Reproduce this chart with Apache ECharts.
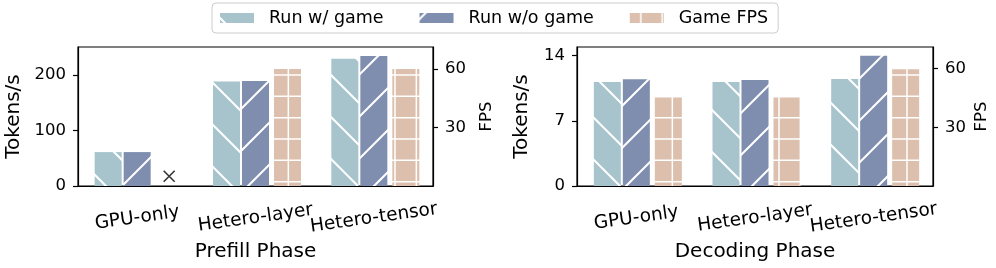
<!DOCTYPE html>
<html><head><meta charset="utf-8">
<script src="https://cdn.jsdelivr.net/npm/echarts@6/dist/echarts.min.js"></script>
<style>html,body{margin:0;padding:0;background:#fff}#c{width:996px;height:268px}</style>
</head><body><div id="c"></div>
<script>
// ---- data ----
const categories = ['GPU-only', 'Hetero-layer', 'Hetero-tensor'];
const seriesNames = ['Run w/ game', 'Run w/o game', 'Game FPS'];
const prefillWithGame = [61, 188, 229];
const prefillWithoutGame = [61, 189, 234];
const prefillFps = ['-', 60, 60];
const prefillFpsMissing = [5, '-', '-'];   // marked with an X (no FPS bar)
const decodeWithGame = [11.17, 11.17, 11.49];
const decodeWithoutGame = [11.46, 11.38, 14.0];
const decodeFps = [45.2, 45.2, 59.6];
const prefillTokenTicks = [0, 100, 200];
const decodeTokenTicks = [0, 7, 14];
const fpsTicks = [30, 60];
const axisTitles = { prefill: 'Prefill Phase', decode: 'Decoding Phase', tokens: 'Tokens/s', fps: 'FPS' };

// ---- styles ----
const C_LIGHT = '#a7c4cd', C_DARK = '#7f8eae', C_PINK = '#dcbfad';
const FONT = 'DejaVu Sans';

function hatch(kind, color, phase) {
  const s = 42;
  const cv = document.createElement('canvas'); cv.width = s; cv.height = s;
  const g = cv.getContext('2d');
  g.fillStyle = color; g.fillRect(0, 0, s, s);
  g.strokeStyle = '#ffffff'; g.lineWidth = 2;
  g.beginPath();
  for (let k = -3; k <= 3; k++) {
    const c0 = phase + k * s;
    if (kind === 'back') { g.moveTo(-s, -s + c0); g.lineTo(2 * s, 2 * s + c0); }
    else { g.moveTo(-s, s + c0); g.lineTo(2 * s, -2 * s + c0); }
  }
  g.stroke();
  return { image: cv, repeat: 'repeat' };
}
function gridHatch(color, phase) {
  const s = 64;
  const cv = document.createElement('canvas'); cv.width = s; cv.height = s;
  const g = cv.getContext('2d');
  g.fillStyle = color; g.fillRect(0, 0, s, s);
  g.strokeStyle = '#ffffff'; g.lineWidth = 1.5;
  g.beginPath();
  for (let i = -1; i <= 3; i++) {
    const p = phase + i * s / 3;
    g.moveTo(p, 0); g.lineTo(p, s);
    g.moveTo(0, p); g.lineTo(s, p);
  }
  g.stroke();
  return { image: cv, repeat: 'repeat' };
}

const pat = {
  l1: hatch('back', C_LIGHT, 38), d1: hatch('fwd', C_DARK, 14),
  l2: hatch('back', C_LIGHT, 28), d2: hatch('fwd', C_DARK, 14),
  lg1: hatch('back', C_LIGHT, 5), lg2: hatch('fwd', C_DARK, 6),
  p: gridHatch(C_PINK, 11)
};

const BW = 27;
const grids = [
  { left: 78, right: 563, top: 47, bottom: 82, show: true, borderColor: '#000', borderWidth: 1.2, backgroundColor: 'transparent' },
  { left: 577, right: 63, top: 47, bottom: 82, show: true, borderColor: '#000', borderWidth: 1.2, backgroundColor: 'transparent' }
];

function xMain(gi, title) {
  return {
    gridIndex: gi, type: 'category', data: categories,
    axisLine: { lineStyle: { color: '#000', width: 1.2 } },
    axisTick: { alignWithLabel: true, length: 5, lineStyle: { color: '#000', width: 1.2 } },
    axisLabel: { interval: 0, rotate: 8, fontSize: 18.5, color: '#000', fontFamily: FONT, margin: 32, align: 'center', verticalAlign: 'middle' },
    name: title, nameLocation: 'middle', nameGap: 53,
    nameTextStyle: { fontSize: 20, color: '#000', fontFamily: FONT }
  };
}
function xHidden(gi) {
  return { gridIndex: gi, type: 'category', data: categories, show: false };
}
function yTokens(gi, max, ticks, gap) {
  return {
    gridIndex: gi, type: 'value', min: 0, max: max, position: 'left',
    axisLine: { show: true, lineStyle: { color: '#000', width: 1.2 } },
    axisTick: { show: true, length: 5, customValues: ticks, lineStyle: { color: '#000', width: 1.2 } },
    axisLabel: { customValues: ticks, fontSize: 16.5, color: '#000', fontFamily: FONT, margin: 12 },
    splitLine: { show: false },
    name: axisTitles.tokens, nameLocation: 'middle', nameGap: gap,
    nameTextStyle: { fontSize: 20, color: '#000', fontFamily: FONT }
  };
}
function yFps(gi, max, gap) {
  return {
    gridIndex: gi, type: 'value', min: 0, max: max, position: 'right',
    axisLine: { show: true, lineStyle: { color: '#000', width: 1.2 } },
    axisTick: { show: true, length: 5, customValues: fpsTicks, lineStyle: { color: '#000', width: 1.2 } },
    axisLabel: { customValues: fpsTicks, fontSize: 16.5, color: '#000', fontFamily: FONT, margin: 12 },
    splitLine: { show: false },
    name: axisTitles.fps, nameLocation: 'middle', nameGap: gap,
    nameTextStyle: { fontSize: 16.5, color: '#000', fontFamily: FONT }
  };
}

function barSeries(name, xi, yi, data, color, gap) {
  return { type: 'bar', name: name, xAxisIndex: xi, yAxisIndex: yi, data: data, barWidth: BW, barGap: gap,
    itemStyle: { color: color }, emphasis: { disabled: true }, silent: true };
}
let dummyCount = 0;
function dummy(xi, yi, gap) {
  dummyCount++;
  return { type: 'bar', name: '_dummy' + dummyCount, xAxisIndex: xi, yAxisIndex: yi, data: ['-', '-', '-'], barWidth: BW, barGap: gap, silent: true };
}

const G1 = '7.4%', G2 = '18.5%';
const series = [
  // prefill
  barSeries(seriesNames[0], 0, 0, prefillWithGame, pat.l1, G1),
  barSeries(seriesNames[1], 0, 0, prefillWithoutGame, pat.d1, G1),
  dummy(0, 0, G1),
  dummy(1, 1, G2), dummy(1, 1, G2),
  barSeries(seriesNames[2], 1, 1, prefillFps, pat.p, G2),
  { type: 'scatter', name: 'missing', xAxisIndex: 0, yAxisIndex: 1, data: prefillFpsMissing,
    symbol: 'path://M0,0L10,10M10,0L0,10', symbolSize: 11, symbolOffset: [32, 0],
    itemStyle: { color: 'rgba(0,0,0,0)', borderColor: '#000', borderWidth: 1.6 }, silent: true },
  // decoding
  barSeries(seriesNames[0], 2, 2, decodeWithGame, pat.l2, G1),
  barSeries(seriesNames[1], 2, 2, decodeWithoutGame, pat.d2, G1),
  dummy(2, 2, G1),
  dummy(3, 3, G2), dummy(3, 3, G2),
  barSeries(seriesNames[2], 3, 3, decodeFps, pat.p, G2)
];

const chart = echarts.init(document.getElementById('c'), null, { renderer: 'canvas' });
chart.setOption({
  animation: false,
  textStyle: { fontFamily: FONT },
  grid: grids,
  legend: {
    left: 212, top: 3,
    data: [
      { name: seriesNames[0], itemStyle: { color: pat.lg1 } },
      { name: seriesNames[1], itemStyle: { color: pat.lg2 } },
      { name: seriesNames[2], itemStyle: { color: pat.p } }
    ],
    icon: 'rect', itemWidth: 34, itemHeight: 10, itemGap: 36,
    textStyle: { fontSize: 17.5, color: '#000', fontFamily: FONT, padding: [0, 0, 0, 10] },
    borderColor: '#cccccc', borderWidth: 1, borderRadius: 4, padding: [6, 10, 6, 8],
    selectedMode: false
  },
  xAxis: [xMain(0, axisTitles.prefill), xHidden(0), xMain(1, axisTitles.decode), xHidden(1)],
  yAxis: [yTokens(0, 250, prefillTokenTicks, 54), yFps(0, 71.3, 45), yTokens(1, 14.93, decodeTokenTicks, 45), yFps(1, 71, 40)],
  series: series
});
</script>
</body></html>
